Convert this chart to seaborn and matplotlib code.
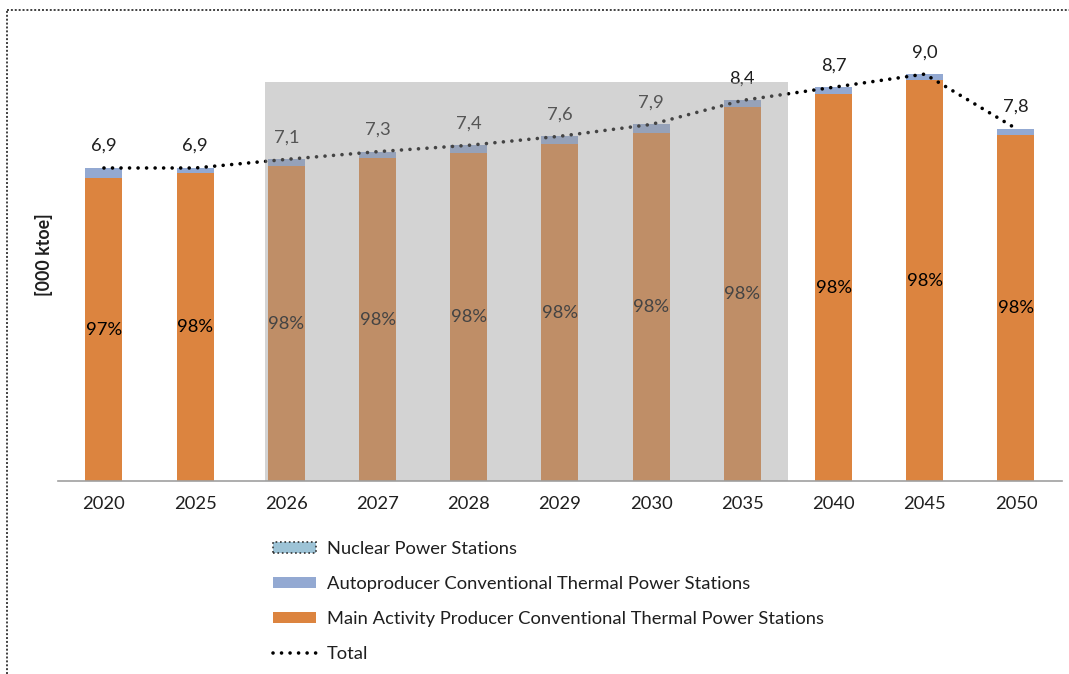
import numpy as np
import pandas as pd
import matplotlib
matplotlib.use("Agg")
import matplotlib.pyplot as plt
from matplotlib.patches import Rectangle, Patch
from matplotlib.lines import Line2D
import seaborn as sns

# --- data (000 ktoe) ---
years = ["2020", "2025", "2026", "2027", "2028", "2029", "2030", "2035", "2040", "2045", "2050"]
main_activity = [6.67, 6.78, 6.94, 7.11, 7.24, 7.42, 7.68, 8.25, 8.53, 8.83, 7.62]
autoproducer = [0.23, 0.12, 0.15, 0.15, 0.16, 0.18, 0.18, 0.14, 0.15, 0.14, 0.15]
nuclear = [0.0] * 11
shaded_years = ["2026", "2035"]  # first and last year of the shaded band

sns.set_theme(style="white")
plt.rcParams["font.family"] = ["Lato", "DejaVu Sans"]

C_MAIN = "#DC843F"
C_AUTO = "#93A9D2"
C_NUC = "#9DC3D6"
TXT = "#1F1F1F"
FS = 13.2

df = pd.DataFrame({
    "year": years,
    "main": main_activity,
    "auto": autoproducer,
    "nuclear": nuclear,
})
df["main_auto"] = df["main"] + df["auto"]
df["total"] = df["main_auto"] + df["nuclear"]
df["share"] = df["main"] / df["total"] * 100

fig = plt.figure(figsize=(10.69, 6.74), dpi=100)
ax = fig.add_axes([0.0546, 0.2864, 0.9384, 0.673])

W = 0.405
# stacked bars: draw cumulative heights back to front
sns.barplot(data=df, x="year", y="total", color=C_NUC, width=W, saturation=1,
            linewidth=0, ax=ax, order=years)
sns.barplot(data=df, x="year", y="main_auto", color=C_AUTO, width=W, saturation=1,
            linewidth=0, ax=ax, order=years)
sns.barplot(data=df, x="year", y="main", color=C_MAIN, width=W, saturation=1,
            linewidth=0, ax=ax, order=years)

xpos = np.arange(len(years))
sns.lineplot(x=xpos, y=df["total"].to_numpy(), color="black", lw=2.6,
             linestyle=(0, (0.01, 2.35)), dash_capstyle="round", ax=ax, zorder=4)

# value labels
for i, row in df.iterrows():
    ax.annotate(f"{row['total']:.1f}".replace(".", ","), (i, row["total"]),
                xytext=(0, 10), textcoords="offset points", ha="center", va="bottom",
                fontsize=FS, color=TXT, zorder=5)
    ax.text(i, row["main"] / 2, f"{row['share']:.0f}%", ha="center", va="center",
            fontsize=FS, color="black", zorder=5)

# translucent band over the intermediate years
i0, i1 = years.index(shaded_years[0]), years.index(shaded_years[1])
ax.add_patch(Rectangle((i0 - 0.235, 0), (i1 + 0.5) - (i0 - 0.235), 8.8,
                       facecolor="#9B9B9B", alpha=0.44, edgecolor="none", zorder=10))

ax.set_xlim(-0.5, len(years) - 0.5)
ax.set_ylim(0, 10)
ax.set_xlabel("")
ax.set_ylabel("")
ax.set_yticks([])
for s in ["top", "right", "left"]:
    ax.spines[s].set_visible(False)
ax.spines["bottom"].set_color("#A0A0A0")
ax.spines["bottom"].set_linewidth(1.2)
ax.tick_params(axis="x", length=0, pad=11, labelsize=FS, labelcolor=TXT)

fig.text(44 / 1069, 1 - 255 / 674, "[000 ktoe]", rotation=90, ha="center", va="center",
         fontsize=12.8, fontweight="bold", color=TXT)

handles = [
    Patch(facecolor=C_NUC, edgecolor="#333333", linestyle=":", linewidth=1.2),
    Patch(facecolor=C_AUTO, edgecolor="none"),
    Patch(facecolor=C_MAIN, edgecolor="none"),
    Line2D([0], [0], color="black", lw=2.6, linestyle=(0, (0.01, 2.35)), dash_capstyle="round"),
]
labels = ["Nuclear Power Stations",
          "Autoproducer Conventional Thermal Power Stations",
          "Main Activity Producer Conventional Thermal Power Stations",
          "Total"]
fig.legend(handles, labels, loc="upper left", bbox_to_anchor=(273 / 1069, 1 - 541 / 674),
           frameon=False, fontsize=FS, handlelength=2.35, handleheight=0.52,
           handletextpad=0.6, labelspacing=1.04, borderpad=0, borderaxespad=0,
           labelcolor=TXT)

# dotted outline along top and left edges
fig.add_artist(Line2D([7 / 1069, 1.0], [1 - 10 / 674, 1 - 10 / 674], transform=fig.transFigure,
                      color="#404040", lw=1.4, linestyle=(0, (1, 1))))
fig.add_artist(Line2D([7 / 1069, 7 / 1069], [0.0, 1 - 10 / 674], transform=fig.transFigure,
                      color="#404040", lw=1.4, linestyle=(0, (1, 1))))

fig.savefig("out.png", dpi=100, facecolor="white")
